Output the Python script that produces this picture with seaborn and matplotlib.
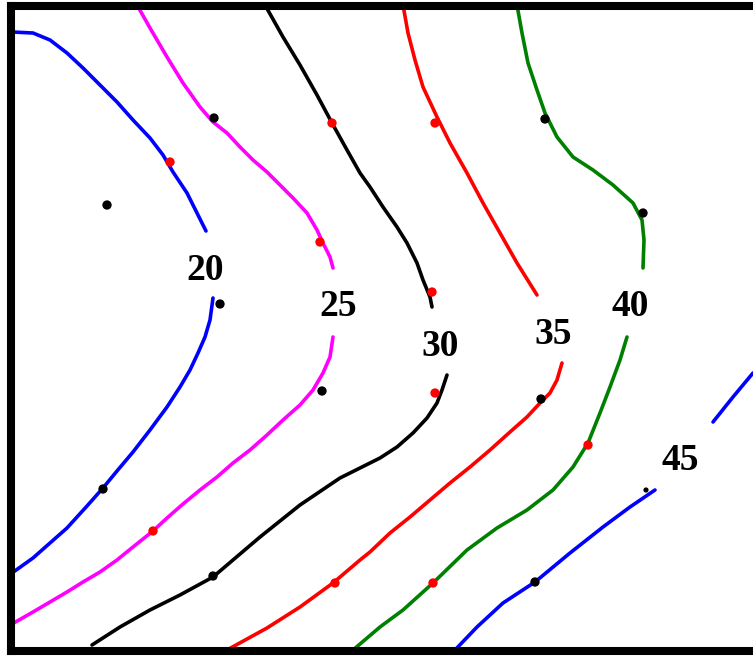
import matplotlib
matplotlib.use('Agg')
import matplotlib.pyplot as plt
import seaborn as sns
import pandas as pd

# contour levels, colours and label positions
levels = [20, 25, 30, 35, 40, 45]
colors = ['#0000ff', '#ff00ff', '#000000', '#ff0000', '#008000', '#0000ff']
label_x = [205, 338, 440, 553, 630, 680]
label_y = [270, 307, 346, 334, 307, 460]

# each level is split in two pieces around its label (upper, lower)
upper_x = [
    [12, 33, 50, 67, 83, 100, 117, 133, 150, 163, 173, 187, 197, 206],
    [137, 150, 167, 183, 200, 213, 227, 240, 253, 267, 280, 293, 307, 317, 323, 330, 333],
    [265, 283, 300, 317, 332, 347, 360, 370, 383, 397, 407, 417, 423, 430, 432],
    [403, 408, 415, 423, 437, 450, 467, 483, 500, 517, 537],
    [517, 522, 528, 537, 545, 557, 573, 593, 613, 633, 642, 644, 643],
    [753, 733, 713],
]
upper_y = [
    [32, 33, 40, 53, 68, 85, 102, 120, 138, 155, 172, 193, 213, 231],
    [5, 28, 57, 83, 107, 122, 133, 147, 160, 172, 185, 198, 213, 230, 243, 257, 268],
    [5, 37, 65, 95, 123, 150, 173, 187, 207, 227, 243, 263, 280, 297, 307],
    [5, 33, 60, 87, 117, 143, 173, 203, 233, 263, 295],
    [5, 33, 63, 90, 113, 137, 157, 170, 185, 203, 220, 240, 268],
    [373, 397, 422],
]
lower_x = [
    [213, 210, 205, 198, 190, 180, 167, 150, 133, 117, 103, 87, 67, 50, 33, 12],
    [333, 330, 323, 313, 300, 283, 267, 250, 233, 217, 200, 183, 167, 153, 133, 117,
     100, 83, 67, 50, 33, 12],
    [447, 442, 437, 427, 413, 397, 380, 340, 300, 260, 213, 180, 150, 120, 92],
    [562, 557, 550, 540, 527, 510, 490, 470, 450, 430, 410, 390, 370, 360, 333, 300,
     267, 227],
    [627, 620, 610, 600, 588, 573, 553, 527, 497, 467, 433, 403, 380, 353],
    [655, 630, 603, 570, 535, 503, 477, 455],
]
lower_y = [
    [298, 320, 337, 353, 370, 387, 407, 430, 452, 471, 488, 506, 528, 543, 558, 573],
    [337, 357, 373, 390, 405, 420, 435, 450, 463, 477, 490, 504, 518, 531, 547, 560,
     572, 582, 592, 602, 612, 624],
    [375, 390, 403, 418, 433, 447, 458, 478, 505, 537, 577, 595, 610, 627, 645],
    [363, 380, 393, 403, 417, 432, 450, 467, 483, 500, 517, 533, 552, 560, 583, 607,
     628, 650],
    [337, 360, 387, 413, 443, 467, 490, 510, 528, 550, 583, 610, 627, 650],
    [490, 507, 527, 553, 582, 603, 627, 650],
]

# sample points
black_x = [107, 214, 220, 103, 322, 213, 545, 643, 541, 535]
black_y = [205, 118, 304, 489, 391, 576, 119, 213, 399, 582]
red_x = [170, 332, 320, 153, 432, 435, 435, 335, 588, 433]
red_y = [162, 123, 242, 531, 292, 123, 393, 583, 445, 583]
small_x = [646]
small_y = [490]

sns.set_style('white')
fig = plt.figure(figsize=(7.53, 6.57), dpi=100)
ax = fig.add_axes([11 / 753, 6 / 657, 762 / 753, 645.5 / 657])

for i, lev in enumerate(levels):
    for xs, ys in [(upper_x[i], upper_y[i]), (lower_x[i], lower_y[i])]:
        seg = pd.DataFrame({'x': xs, 'y': ys})
        sns.lineplot(data=seg, x='x', y='y', sort=False, estimator=None,
                     color=colors[i], lw=2.6, ax=ax)
    ax.text(label_x[i], label_y[i], str(lev), ha='center', va='center',
            fontsize=27, family='Liberation Serif', fontweight='bold',
            color='black')

pts = pd.DataFrame({'x': black_x + red_x, 'y': black_y + red_y,
                    'kind': ['black'] * len(black_x) + ['red'] * len(red_x)})
sns.scatterplot(data=pts, x='x', y='y', hue='kind',
                palette={'black': '#000000', 'red': '#ff0000'},
                s=45, edgecolor='none', legend=False, ax=ax, zorder=3)
sns.scatterplot(x=small_x, y=small_y, color='black', s=14, edgecolor='none',
                ax=ax, zorder=3)

ax.set_xlim(11, 773)
ax.set_ylim(651, 5.5)
ax.set_xticks([])
ax.set_yticks([])
ax.set_xlabel('')
ax.set_ylabel('')
for side in ['left', 'top', 'bottom']:
    ax.spines[side].set_linewidth(5.8)
    ax.spines[side].set_color('black')
ax.spines['right'].set_visible(False)

fig.savefig('out.png', dpi=100)
